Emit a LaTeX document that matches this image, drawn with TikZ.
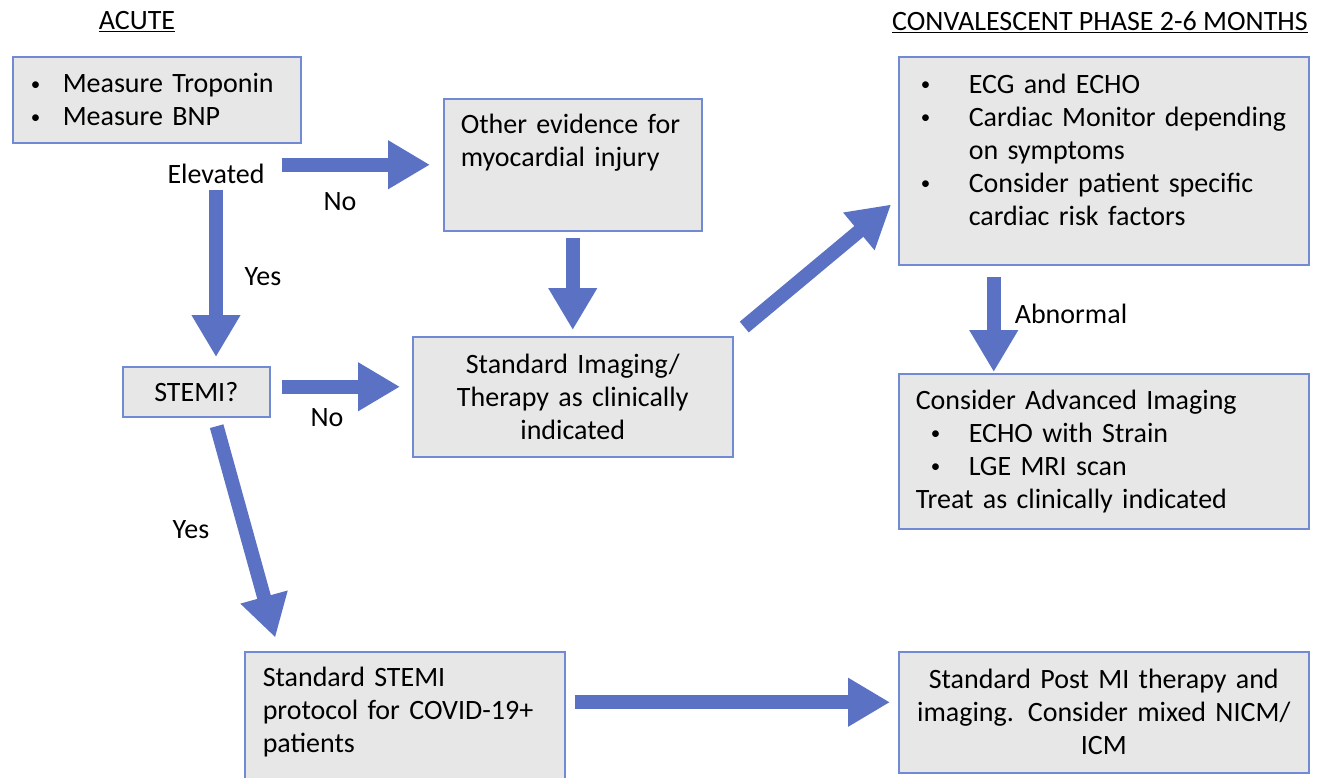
\documentclass[tikz,border=0pt]{standalone}
\usepackage{fontspec}
\setmainfont{Carlito}
\usetikzlibrary{arrows.meta}
\definecolor{boxblue}{RGB}{114,137,212}
\definecolor{boxgray}{RGB}{231,231,231}
\definecolor{arrowblue}{RGB}{91,114,196}
\newcommand{\bul}[1]{\makebox[#1][l]{\raisebox{2.5pt}{\fontsize{19}{19}\selectfont\textbullet}}}

\begin{document}
\begin{tikzpicture}[x=1pt, y=-1pt, font=\fontsize{28}{33}\selectfont,
    box/.style={draw=boxblue, line width=1.5pt, fill=boxgray, anchor=north west, inner ysep=0pt},
    flow/.style={draw=arrowblue, line width=14pt, -{Triangle[length=42pt, width=46pt]}}]
        \useasboundingbox (0,0) rectangle (1318,777);

        % Headings
        \node (acute) at (137,22) {\underline{ACUTE}};
        \node (conval) at (1100,22) {\underline{CONVALESCENT PHASE 2-6 MONTHS}};

        % Acute phase
        \node[box, minimum width=288pt, minimum height=86pt, text width=252pt, inner xsep=18pt, align=left] (measure) at (12,56)
            {\bul{32pt}Measure Troponin\\\bul{32pt}Measure BNP};
        \node (elev) at (216,174) {Elevated};
        \node[box, minimum width=258pt, minimum height=132pt, text width=224pt, inner xsep=17pt, align=left] (other) at (443,98)
            {Other evidence for\\myocardial injury\rule[-48pt]{0pt}{48pt}};
        \node[box, minimum width=147pt, minimum height=50pt, inner xsep=0pt] (stemi) at (122,366) {STEMI?};
        \node[box, minimum width=320pt, minimum height=120pt, text width=300pt, inner xsep=10pt, align=center] (imaging) at (412,336)
            {Standard Imaging/\\Therapy as clinically\\indicated};
        \node[box, minimum width=320pt, minimum height=130pt, text width=284pt, inner xsep=18pt, align=left] (protocol) at (244,651)
            {Standard STEMI\\protocol for COVID-19+\\patients\rule[-13pt]{0pt}{13pt}};

        % Convalescent phase
        \node[box, minimum width=410pt, minimum height=208pt, text width=366pt, inner xsep=22pt, align=left] (conv) at (898,56)
            {\bul{48pt}ECG and ECHO\\\bul{48pt}Cardiac Monitor depending\\\hspace*{48pt}on symptoms\\\bul{48pt}Consider patient specific\\\hspace*{48pt}cardiac risk factors\rule[-22pt]{0pt}{22pt}};
        \node[box, minimum width=410pt, minimum height=155pt, text width=376pt, inner xsep=17pt, align=left] (advanced) at (898,373)
            {Consider Advanced Imaging\\\hspace*{15pt}\bul{38pt}ECHO with Strain\\\hspace*{15pt}\bul{38pt}LGE MRI scan\\Treat as clinically indicated};
        \node[box, minimum width=410pt, minimum height=121pt, text width=390pt, inner xsep=10pt, align=center] (postmi) at (898,651)
            {Standard Post MI therapy and\\imaging. Consider mixed NICM/\\ICM};

        % Arrows
        \draw[flow, shorten <=14pt, shorten >=13pt] (elev.east |- other.west) -- (other.west);
        \draw[flow, shorten <=3pt, shorten >=9pt] (elev.south) -- (elev.south |- stemi.north);
        \draw[flow, shorten <=6pt, shorten >=6pt] (other.south) -- (imaging.north);
        \draw[flow, shorten <=11pt, shorten >=12pt] ([yshift=5pt]stemi.east) -- ([yshift=5pt]stemi.east -| imaging.west);
        \draw[flow, shorten <=14pt, shorten >=9pt] (imaging.north east) -- ([yshift=-38pt]conv.west);
        \draw[flow, shorten <=11pt, shorten >=1pt] ([xshift=-110pt]conv.south) -- ([xshift=-110pt]advanced.north);
        \draw[flow, shorten <=9pt, shorten >=14pt] ([xshift=18pt]stemi.south) -- ([xshift=35pt]protocol.north west);
        \draw[flow, shorten <=9pt, shorten >=8pt] ([yshift=10pt]postmi.west -| protocol.east) -- ([yshift=10pt]postmi.west);

        % Branch labels
        \node (no1) at (340,202) {No};
        \node (yes1) at (263,277) {Yes};
        \node (no2) at (327,418) {No};
        \node (yes2) at (191,530) {Yes};
        \node (abn) at (1071,314) {Abnormal};
    \end{tikzpicture}
\end{document}
